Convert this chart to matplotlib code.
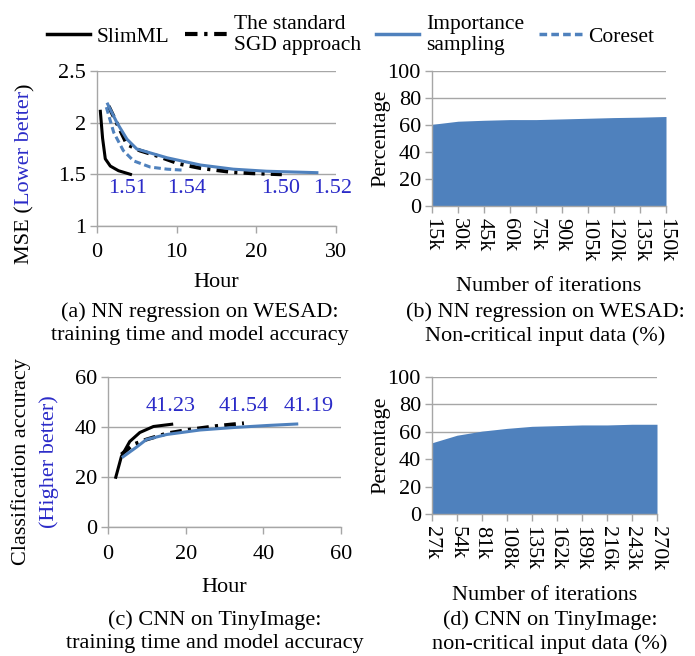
import numpy as np
import matplotlib
matplotlib.use("Agg")
import matplotlib.pyplot as plt
from matplotlib.lines import Line2D

plt.rcParams['font.family'] = ['Liberation Serif', 'DejaVu Serif']
plt.rcParams['font.size'] = 16

BLUE = '#4F81BD'
LBL = '#2B2BC8'
GRID = '#A6A6A6'

# ---- (a) NN regression on WESAD: MSE vs hour ----
a_slim_h = [0.42, 0.7, 1.04, 1.67, 2.7, 4.2]
a_slim_v = [2.11, 1.85, 1.65, 1.58, 1.535, 1.50]
a_sgd_h = [1.46, 3.76, 5.4, 7.5, 10.4, 13.0, 17.1, 19.6, 23.2]
a_sgd_v = [2.16, 1.79, 1.73, 1.68, 1.60, 1.56, 1.52, 1.51, 1.50]
a_is_h = [1.34, 2.5, 3.76, 5.0, 8.8, 13.0, 17.1, 21.3, 27.6]
a_is_v = [2.18, 2.0, 1.84, 1.745, 1.66, 1.59, 1.55, 1.53, 1.516]
a_core_h = [1.17, 2.1, 3.3, 4.6, 6.7, 8.8, 10.9]
a_core_v = [2.15, 1.905, 1.73, 1.63, 1.57, 1.55, 1.54]
a_labels = ['1.51', '1.54', '1.50', '1.52']
a_label_x = [3.9, 11.2, 23.1, 29.6]

# ---- (c) CNN on TinyImage: accuracy vs hour ----
c_slim_h = [2.0, 3.45, 5.6, 8.2, 11.7, 16.4]
c_slim_v = [19.9, 28.2, 34.2, 37.8, 40.2, 41.1]
c_sgd_h = [3.45, 6.5, 9.9, 15.1, 20.3, 28.0, 35.0]
c_sgd_v = [29.0, 33.0, 35.0, 37.4, 38.8, 40.4, 41.5]
c_is_h = [3.9, 7.3, 9.9, 15.1, 23.7, 32.4, 41.0, 48.6]
c_is_v = [28.1, 31.9, 35.0, 37.0, 38.8, 39.8, 40.6, 41.2]
c_labels = ['41.23', '41.54', '41.19']
c_label_x = [16.2, 35.0, 51.6]

# ---- (b), (d) non-critical input data (%) ----
b_iters = ['15k', '30k', '45k', '60k', '75k', '90k', '105k', '120k', '135k', '150k']
b_pct = [60.5, 62.8, 63.5, 64.0, 64.0, 64.5, 65.0, 65.5, 65.8, 66.3]
d_iters = ['27k', '54k', '81k', '108k', '135k', '162k', '189k', '216k', '243k', '270k']
d_pct = [52.0, 57.5, 60.5, 62.5, 64.0, 64.5, 65.0, 65.0, 65.5, 65.5]

fig = plt.figure(figsize=(6.95, 6.56), dpi=100)
W, H = 695, 656


def add_ax(l, t, r, b):
    return fig.add_axes([l / W, 1 - b / H, (r - l) / W, (b - t) / H])


def style(ax, xpad=3):
    for s in ['top', 'right']:
        ax.spines[s].set_visible(False)
    for s in ['left', 'bottom']:
        ax.spines[s].set_color(GRID)
        ax.spines[s].set_linewidth(1.0)
    ax.yaxis.grid(True, color=GRID, lw=1.0)
    ax.set_axisbelow(True)
    ax.tick_params(axis='both', color=GRID, length=5, width=1.0, direction='out', pad=3)
    ax.tick_params(axis='x', pad=xpad)


sgd_ls = (0, (3, 1.6, 0.8, 1.6))
core_ls = (0, (2.2, 1.2))

# (a)
ax = add_ax(97, 71, 336, 226)
style(ax, xpad=7)
ax.plot(a_slim_h, a_slim_v, color='black', lw=2.2)
ax.plot(a_sgd_h, a_sgd_v, color='black', lw=2.8, ls=sgd_ls)
ax.plot(a_is_h, a_is_v, color=BLUE, lw=2.2)
ax.plot(a_core_h, a_core_v, color=BLUE, lw=2.2, ls=core_ls)
for s, x in zip(a_labels, a_label_x):
    ax.text(x, 1.36, s, color=LBL, ha='center', va='center', clip_on=False)
ax.set_xlim(0, 30)
ax.set_ylim(1, 2.5)
ax.set_xticks([0, 10, 20, 30])
ax.set_yticks([1, 1.5, 2, 2.5])
ax.set_yticklabels(['1', '1.5', '2', '2.5'])
ax.set_xlabel('Hour', labelpad=8)
t1 = fig.text(25 / W, 1 - 264 / H, 'MSE (', rotation=90, ha='center', va='bottom')
t2 = ax.annotate('Lower better', xy=(0.5, 1), xycoords=t1, rotation=90,
                 ha='center', va='bottom', color=LBL)
ax.annotate(')', xy=(0.5, 1), xycoords=t2, rotation=90, ha='center', va='bottom')
fig.text(200 / W, 1 - 324 / H, '(a) NN regression on WESAD:\ntraining time and model accuracy',
         ha='center', va='center', linespacing=1.3)

# (b)
ax = add_ax(432, 71, 666, 206)
style(ax, xpad=4)
xb = np.arange(len(b_iters))
ax.fill_between(xb, 0, b_pct, color=BLUE, lw=0)
ax.set_xlim(0, len(b_iters) - 1)
ax.set_ylim(0, 100)
ax.set_yticks(range(0, 101, 20))
ax.set_xticks(xb)
ax.set_xticklabels(b_iters, rotation=270)
ax.set_ylabel('Percentage', labelpad=-2)
ax.set_xlabel('Number of iterations', labelpad=10)
fig.text(545 / W, 1 - 324 / H, '(b) NN regression on WESAD:\nNon-critical input data (%)',
         ha='center', va='center', linespacing=1.3)

# (c)
ax = add_ax(108, 377, 341, 527)
style(ax, xpad=8)
ax.plot(c_slim_h, c_slim_v, color='black', lw=2.2)
ax.plot(c_sgd_h, c_sgd_v, color='black', lw=2.8, ls=sgd_ls)
ax.plot(c_is_h, c_is_v, color=BLUE, lw=2.2)
for s, x in zip(c_labels, c_label_x):
    ax.text(x, 48.2, s, color=LBL, ha='center', va='center', clip_on=False)
ax.set_xlim(0, 60)
ax.set_ylim(0, 60)
ax.set_xticks([0, 20, 40, 60])
ax.set_yticks([0, 20, 40, 60])
ax.set_xlabel('Hour', labelpad=10)
fig.text(21 / W, 1 - 462 / H, 'Classification accuracy', rotation=90, ha='center', va='center')
fig.text(49 / W, 1 - 462 / H, '(Higher better)', rotation=90, ha='center', va='center', color=LBL)
fig.text(215 / W, 1 - 632 / H, '(c) CNN on TinyImage:\ntraining time and model accuracy',
         ha='center', va='center', linespacing=1.3)

# (d)
ax = add_ax(432, 377, 657, 514)
style(ax, xpad=4)
xd = np.arange(len(d_iters))
ax.fill_between(xd, 0, d_pct, color=BLUE, lw=0)
ax.set_xlim(0, len(d_iters) - 1)
ax.set_ylim(0, 100)
ax.set_yticks(range(0, 101, 20))
ax.set_xticks(xd)
ax.set_xticklabels(d_iters, rotation=270)
ax.set_ylabel('Percentage', labelpad=-2)
ax.set_xlabel('Number of iterations', labelpad=11)
fig.text(550 / W, 1 - 632 / H, '(d) CNN on TinyImage:\nnon-critical input data (%)',
         ha='center', va='center', linespacing=1.3)

# legend
handles = [
    Line2D([], [], color='black', lw=2.5),
    Line2D([], [], color='black', lw=3.0, ls=sgd_ls),
    Line2D([], [], color=BLUE, lw=2.5),
    Line2D([], [], color=BLUE, lw=2.5, ls=core_ls),
]
labels = ['SlimML', 'The standard\nSGD approach', 'Importance\nsampling', 'Coreset']
fig.legend(handles, labels, loc='center', bbox_to_anchor=(0.505, 1 - 35 / H), ncol=4,
           frameon=False, handlelength=2.0, handletextpad=0.3, columnspacing=0.7,
           borderaxespad=0, labelspacing=0.1, fontsize=15.5)

fig.savefig('out.png', dpi=100)
